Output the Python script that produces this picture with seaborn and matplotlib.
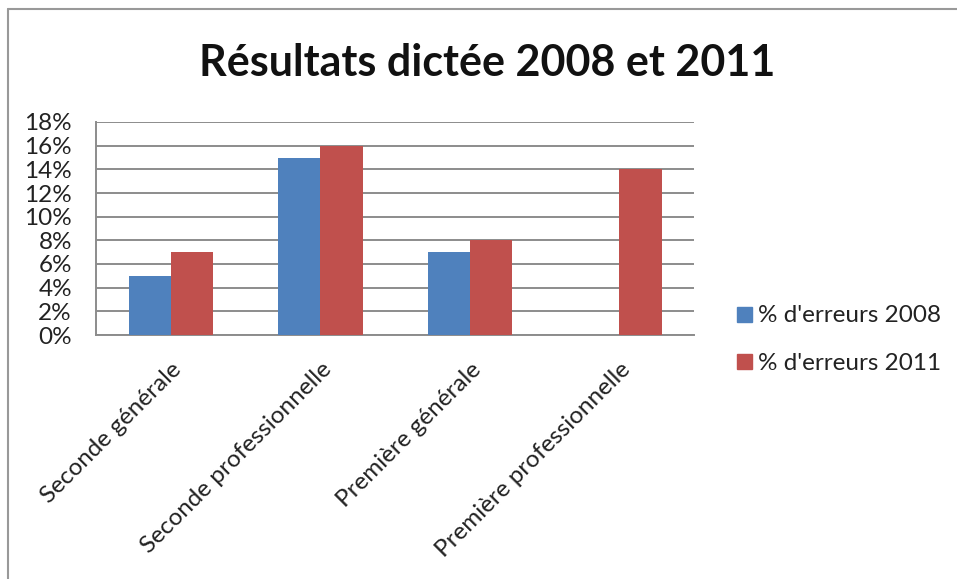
import pandas as pd
import numpy as np
import seaborn as sns
import matplotlib.pyplot as plt
from matplotlib.lines import Line2D
from matplotlib.ticker import FixedLocator

# Données (en %)
categories = ["Seconde générale", "Seconde professionnelle", "Première générale", "Première professionnelle"]
erreurs_2008 = [5, 15, 7, np.nan]
erreurs_2011 = [7, 16, 8, 14]
series = ["% d'erreurs 2008", "% d'erreurs 2011"]
yticks = list(range(0, 20, 2))

df = pd.DataFrame({
    "Classe": categories * 2,
    "Serie": [series[0]] * 4 + [series[1]] * 4,
    "Valeur": erreurs_2008 + erreurs_2011,
})

sns.set_style("white")
plt.rcParams['font.family'] = ['Lato', 'DejaVu Sans']

fig = plt.figure(figsize=(9.57, 5.79), dpi=100)
ax = fig.add_axes([96.3 / 957, 1 - 335 / 579, (694 - 96.3) / 957, 213 / 579])

palette = {series[0]: "#4F81BD", series[1]: "#C0504D"}
sns.barplot(data=df, x="Classe", y="Valeur", hue="Serie", palette=palette,
            width=0.566, gap=0, saturation=1, linewidth=0, ax=ax, legend=False, zorder=3)

grid_col = "#8c8c8c"
txt_col = "#222222"
fs = 17.5
ax.set_ylim(0, 18)
ax.set_xlim(-0.5, 3.5)
ax.set_yticks(yticks)
ax.set_yticklabels([f"{t}%" for t in yticks])
ax.yaxis.grid(True, color=grid_col, linewidth=1.4, zorder=0)
ax.set_axisbelow(True)
ax.set_xlabel("")
ax.set_ylabel("")

for s in ["top", "right"]:
    ax.spines[s].set_visible(False)
for s in ["left", "bottom"]:
    ax.spines[s].set_color(grid_col)
    ax.spines[s].set_linewidth(1.4)

ax.tick_params(axis="y", length=6.5, width=1.4, color=grid_col, direction="out",
               labelsize=fs, labelcolor=txt_col, pad=11)
ax.set_xticks(range(len(categories)))
ax.set_xticklabels(categories, rotation=45, ha="right", rotation_mode="anchor",
                   fontsize=fs, color=txt_col)
ax.tick_params(axis="x", which="major", length=0, pad=17)
ax.xaxis.set_minor_locator(FixedLocator([-0.5, 0.5, 1.5, 2.5, 3.5]))
ax.tick_params(axis="x", which="minor", length=4, width=1.4, color=grid_col, direction="out")

handles = [Line2D([], [], marker="s", linestyle="", markersize=10.8,
                  markerfacecolor=palette[s], markeredgecolor=palette[s]) for s in series]
fig.legend(handles, series, loc="center left", bbox_to_anchor=(735 / 957, 1 - 339.5 / 579),
           frameon=False, fontsize=fs, handlelength=0.7, handletextpad=0.25,
           labelspacing=1.08, borderpad=0, borderaxespad=0, labelcolor=txt_col)

fig.text(487 / 957, 1 - 63 / 579, "Résultats dictée 2008 et 2011", ha="center", va="center",
         fontsize=31, fontweight="bold", color="#111111")

# cadre du graphique (bords haut et gauche visibles)
fig.add_artist(Line2D([8 / 957, 8 / 957], [0, 1 - 9 / 579], color="#999999", linewidth=1.5))
fig.add_artist(Line2D([8 / 957, 1], [1 - 9 / 579, 1 - 9 / 579], color="#999999", linewidth=1.5))

fig.savefig("out.png", dpi=100)
